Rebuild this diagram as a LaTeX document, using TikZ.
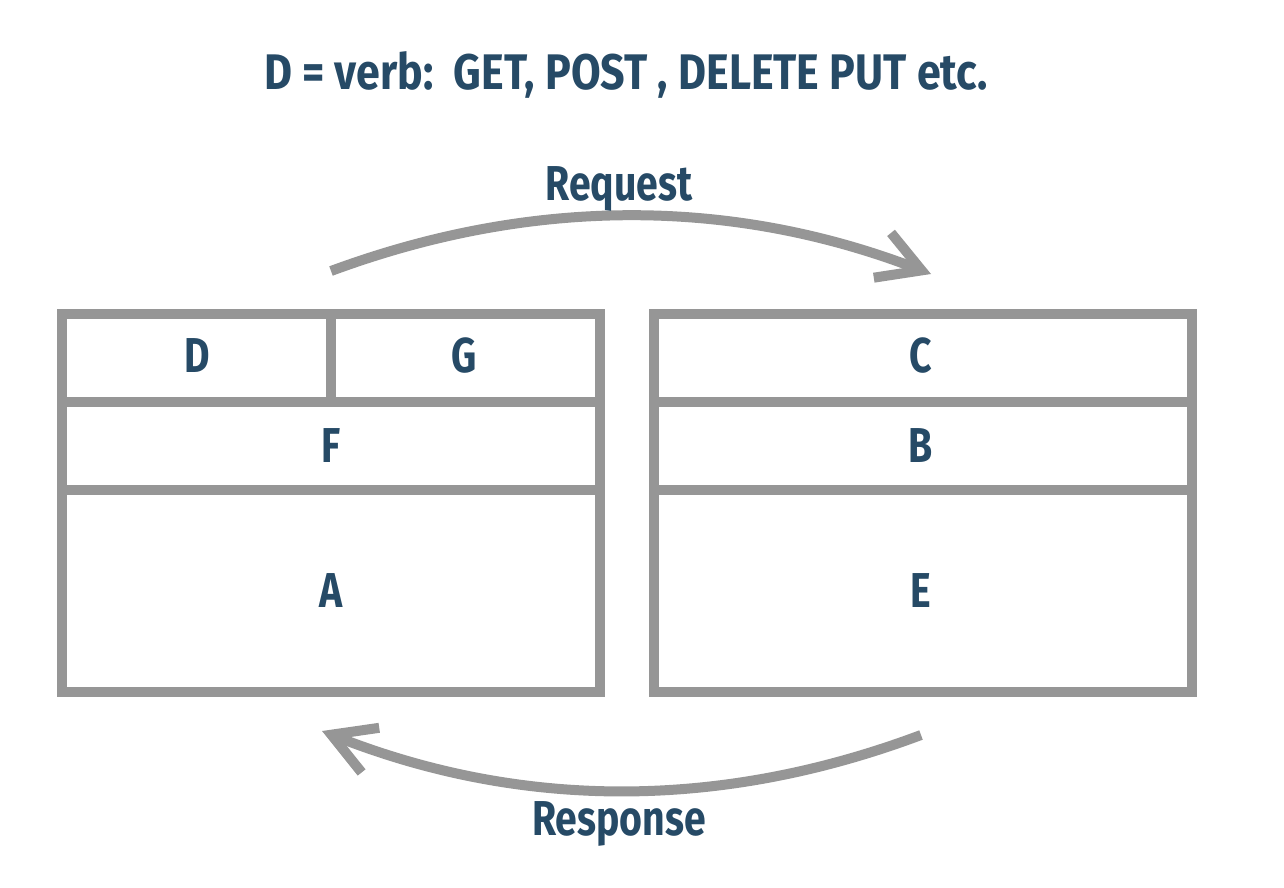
\documentclass[tikz,border=0pt]{standalone}
\usepackage{fontspec}
\setmainfont{Fira Sans}[FakeStretch=0.8]
\newfontfamily\titlefont{Fira Sans}[FakeStretch=0.86]
\usetikzlibrary{arrows.meta}
\definecolor{boxgrey}{HTML}{969696}
\definecolor{inkblue}{HTML}{264A66}
\begin{document}
\begin{tikzpicture}[x=0.5pt,y=-0.5pt,
  frame/.style={draw=boxgrey,line width=5pt},
  lbl/.style={text=inkblue,font=\bfseries\fontsize{24.5}{28}\selectfont,inner sep=0pt,anchor=base},
  flow/.style={draw=boxgrey,line width=5pt,-{Straight Barb[length=21pt,width=24pt]}}]
\useasboundingbox (0,0) rectangle (1284,888);
% title
\node[lbl,font=\titlefont\bfseries\fontsize{25}{28}\selectfont] (title) at (626,90) {D = verb:\ \ GET, POST , DELETE PUT etc.};
% left block
\draw[frame] (62,314) rectangle (331,402);
\draw[frame] (331,314) rectangle (600,402);
\draw[frame] (62,402) rectangle (600,490);
\draw[frame] (62,490) rectangle (600,692);
\node[lbl] (D) at (197,372) {D};
\node[lbl] (G) at (464,372) {G};
\node[lbl] (F) at (331,462) {F};
\node[lbl] (A) at (331,607) {A};
% right block
\draw[frame] (654,314) rectangle (1192,402);
\draw[frame] (654,402) rectangle (1192,490);
\draw[frame] (654,490) rectangle (1192,692);
\node[lbl] (C) at (921,372) {C};
\node[lbl] (B) at (921,462) {B};
\node[lbl] (E) at (921,607) {E};
% connectors
\coordinate (reqS) at (331,271);
\coordinate (reqE) at (931,274);
\coordinate (resS) at (921,735);
\coordinate (resE) at (322,731);
\draw[flow] (reqS) .. controls (531,197) and (731,197) .. (reqE);
\draw[flow] (resS) .. controls (721,810) and (522,810) .. (resE);
\node[lbl] (req) at (619,200) {Request};
\node[lbl] (res) at (619,835) {Response};
\end{tikzpicture}
\end{document}
